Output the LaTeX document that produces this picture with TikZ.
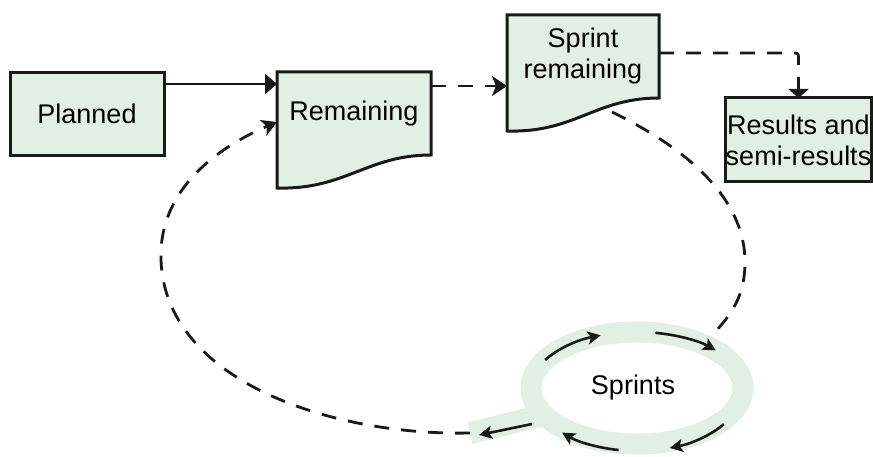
\documentclass[tikz,border=0pt]{standalone}
\usepackage{fontspec}
\setmainfont{Liberation Sans}
\usetikzlibrary{arrows.meta,shapes.geometric,backgrounds}

\definecolor{paleleaf}{RGB}{226,239,229}
\definecolor{inkline}{RGB}{25,25,25}

\tikzset{
  label font/.style={font=\fontsize{27}{31}\selectfont},
  box/.style={draw=inkline,line width=3pt,fill=paleleaf,inner sep=0pt,
    outer sep=0pt,align=center,label font},
  doctext/.style={inner sep=0pt,outer sep=0pt,align=center,label font},
  docshape/.style={draw=inkline,line width=3pt,fill=paleleaf},
  flow/.style={draw=inkline,line width=2.8pt,-{Triangle[length=12pt,width=20pt]}},
  dashflow/.style={draw=inkline,line width=2.8pt,dash pattern=on 15pt off 12pt,
    -{Stealth[length=15pt,width=20pt,inset=4pt]}},
  dropflow/.style={draw=inkline,line width=2.8pt,dash pattern=on 15pt off 12pt,
    -{Triangle[length=9pt,width=20pt]}},
  loopflow/.style={draw=inkline,line width=2.8pt,dash pattern=on 15pt off 12pt},
  ring/.style={ellipse,draw=paleleaf,line width=21pt,minimum width=212pt,
    minimum height=112pt,inner sep=0pt,label font},
  tail/.style={draw=paleleaf,line width=22pt,line cap=butt},
  spin/.style={draw=inkline,line width=2.6pt,-{Stealth[length=13pt,width=13pt,inset=3pt]}}
}

\begin{document}
\begin{tikzpicture}[x=1pt,y=1pt]
  \useasboundingbox (0,0) rectangle (873,456);

  % the four boxes
  \node[box,minimum width=154pt,minimum height=83pt] (planned) at (87,342) {Planned};
  \node[doctext,minimum width=154pt,minimum height=83pt] (rem) at (354,342.5) {Remaining};
  \node[doctext,minimum width=152pt,minimum height=83pt] (sprint) at (583,399.5) {Sprint\\remaining};
  \node[box,minimum width=143pt,minimum height=84pt] (res) at (798.5,316) {Results and\\semi-results};

  % document outlines behind the texts
  \begin{scope}[on background layer]
    \foreach \d in {rem,sprint}
      \draw[docshape] (\d.north west) -- (\d.north east) -- (\d.south east)
        .. controls +(-64pt,0pt) and +(68pt,-2pt) .. ([yshift=-33pt]\d.south west)
        -- cycle;
  \end{scope}

  % sprint ring with its tail
  \coordinate (tailend) at (470,23);
  \node[ring] (sprints) at (637,68) {\hspace*{-8pt}Sprints};
  \draw[tail] ([shift={(-88pt,-26pt)}]sprints.center) -- (tailend);
  \foreach \a/\b/\ry in {150/110/56,80/42/56,-35/-72/63,-100/-135/63}
    \draw[spin] ([shift={(\a:106 and \ry)}]sprints.center)
      arc[start angle=\a,end angle=\b,x radius=106,y radius=\ry];
  \draw[spin] ([shift={(-105pt,-36pt)}]sprints.center) -- ([shift={(-158pt,-47pt)}]sprints.center);

  % connectors
  \coordinate (pa) at ([yshift=30pt]planned.east);
  \draw[flow] (pa) -- (pa -| rem.west);
  \coordinate (ra) at ([yshift=27.5pt]rem.east);
  \draw[dashflow] (ra) -- (ra -| sprint.west);
  \draw[dropflow,rounded corners=3pt] ([yshift=3.5pt]sprint.east) -| (res.north);

  % the big loop
  \coordinate (sb) at ([xshift=29pt,yshift=-14pt]sprint.south);
  \coordinate (rin) at ([yshift=-8.5pt]rem.west);
  \draw[loopflow] (sb) .. controls (690,306) and (745,256) .. (745,194)
    .. controls (745,161) and (732,141) .. (sprints.35);
  \draw[loopflow,-{Stealth[length=15pt,width=17pt,inset=4pt]}] (tailend)
    .. controls (330,20) and (165,76) .. (161,196)
    .. controls (158,276) and (235,316) .. (rin);
\end{tikzpicture}
\end{document}
